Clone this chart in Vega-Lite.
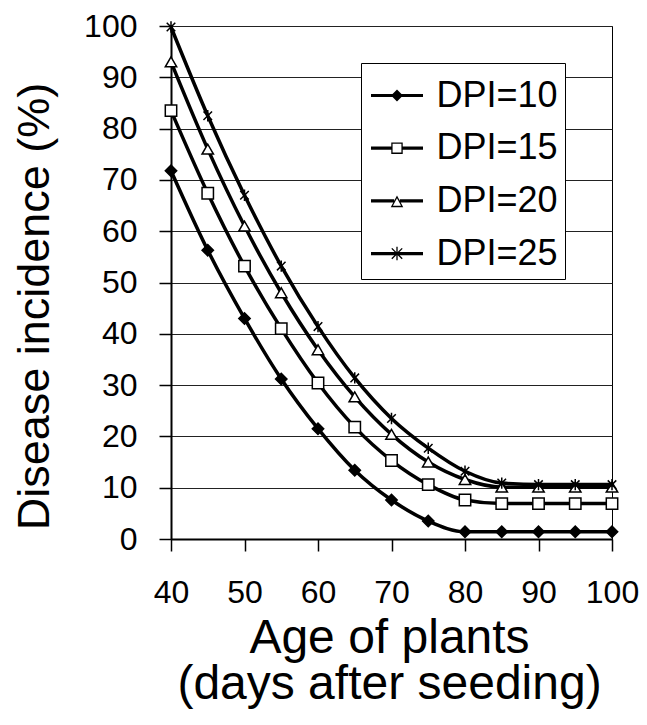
{
  "$schema": "https://vega.github.io/schema/vega-lite/v6.json",
  "width": 441,
  "height": 513,
  "autosize": {"type": "none"},
  "padding": {"left": 171, "top": 26, "right": 35, "bottom": 186},
  "background": "white",
  "config": {
    "font": "Liberation Sans",
    "view": {"stroke": "black", "strokeWidth": 1}
  },
  "data": {
    "values": [
      {"day": 40, "dpi": "DPI=10", "value": 71.8},
      {"day": 45, "dpi": "DPI=10", "value": 56.3},
      {"day": 50, "dpi": "DPI=10", "value": 43.0},
      {"day": 55, "dpi": "DPI=10", "value": 31.2},
      {"day": 60, "dpi": "DPI=10", "value": 21.5},
      {"day": 65, "dpi": "DPI=10", "value": 13.4},
      {"day": 70, "dpi": "DPI=10", "value": 7.6},
      {"day": 75, "dpi": "DPI=10", "value": 3.5},
      {"day": 80, "dpi": "DPI=10", "value": 1.4},
      {"day": 85, "dpi": "DPI=10", "value": 1.4},
      {"day": 90, "dpi": "DPI=10", "value": 1.4},
      {"day": 95, "dpi": "DPI=10", "value": 1.4},
      {"day": 100, "dpi": "DPI=10", "value": 1.4},
      {"day": 40, "dpi": "DPI=15", "value": 83.5},
      {"day": 45, "dpi": "DPI=15", "value": 67.4},
      {"day": 50, "dpi": "DPI=15", "value": 53.2},
      {"day": 55, "dpi": "DPI=15", "value": 41.0},
      {"day": 60, "dpi": "DPI=15", "value": 30.4},
      {"day": 65, "dpi": "DPI=15", "value": 21.8},
      {"day": 70, "dpi": "DPI=15", "value": 15.3},
      {"day": 75, "dpi": "DPI=15", "value": 10.6},
      {"day": 80, "dpi": "DPI=15", "value": 7.6},
      {"day": 85, "dpi": "DPI=15", "value": 6.9},
      {"day": 90, "dpi": "DPI=15", "value": 6.9},
      {"day": 95, "dpi": "DPI=15", "value": 6.9},
      {"day": 100, "dpi": "DPI=15", "value": 6.9},
      {"day": 40, "dpi": "DPI=20", "value": 93.0},
      {"day": 45, "dpi": "DPI=20", "value": 76.0},
      {"day": 50, "dpi": "DPI=20", "value": 61.0},
      {"day": 55, "dpi": "DPI=20", "value": 48.0},
      {"day": 60, "dpi": "DPI=20", "value": 36.9},
      {"day": 65, "dpi": "DPI=20", "value": 27.7},
      {"day": 70, "dpi": "DPI=20", "value": 20.4},
      {"day": 75, "dpi": "DPI=20", "value": 15.0},
      {"day": 80, "dpi": "DPI=20", "value": 11.6},
      {"day": 85, "dpi": "DPI=20", "value": 10.1},
      {"day": 90, "dpi": "DPI=20", "value": 10.1},
      {"day": 95, "dpi": "DPI=20", "value": 10.1},
      {"day": 100, "dpi": "DPI=20", "value": 10.1},
      {"day": 40, "dpi": "DPI=25", "value": 99.8},
      {"day": 45, "dpi": "DPI=25", "value": 82.5},
      {"day": 50, "dpi": "DPI=25", "value": 67.0},
      {"day": 55, "dpi": "DPI=25", "value": 53.2},
      {"day": 60, "dpi": "DPI=25", "value": 41.4},
      {"day": 65, "dpi": "DPI=25", "value": 31.4},
      {"day": 70, "dpi": "DPI=25", "value": 23.5},
      {"day": 75, "dpi": "DPI=25", "value": 17.7},
      {"day": 80, "dpi": "DPI=25", "value": 13.2},
      {"day": 85, "dpi": "DPI=25", "value": 10.9},
      {"day": 90, "dpi": "DPI=25", "value": 10.6},
      {"day": 95, "dpi": "DPI=25", "value": 10.6},
      {"day": 100, "dpi": "DPI=25", "value": 10.6}
    ]
  },
  "encoding": {
    "x": {
      "field": "day",
      "type": "quantitative",
      "scale": {"domain": [40, 100], "nice": false, "zero": false},
      "axis": {
        "values": [40, 50, 60, 70, 80, 90, 100],
        "grid": false,
        "domainColor": "black",
        "domainWidth": 2,
        "tickColor": "black",
        "tickWidth": 1.5,
        "tickSize": 12,
        "labelFontSize": 32,
        "labelColor": "black",
        "labelPadding": 26,
        "labelFlush": false,
        "labelOverlap": false,
        "title": ["Age of plants", "(days after seeding)"],
        "titleFontSize": 48,
        "titleFontWeight": "normal",
        "titleColor": "black",
        "titleBaseline": "alphabetic",
        "titleLineHeight": 46,
        "titleX": 218,
        "titleY": 113
      }
    },
    "y": {
      "field": "value",
      "type": "quantitative",
      "scale": {"domain": [0, 100], "nice": false},
      "axis": {
        "values": [0, 10, 20, 30, 40, 50, 60, 70, 80, 90, 100],
        "grid": true,
        "gridColor": "#222",
        "gridWidth": 1,
        "domainColor": "black",
        "domainWidth": 2,
        "tickColor": "black",
        "tickWidth": 1.5,
        "tickSize": 12,
        "labelFontSize": 32,
        "labelColor": "black",
        "labelPadding": 22,
        "labelFlush": false,
        "labelOverlap": false,
        "title": "Disease incidence (%)",
        "titleFontSize": 45,
        "titleFontWeight": "normal",
        "titleColor": "black",
        "titleBaseline": "alphabetic",
        "titleX": -123,
        "titleY": 280
      }
    }
  },
  "layer": [
    {
      "mark": {"type": "line", "interpolate": "monotone", "color": "black", "strokeWidth": 3.5},
      "encoding": {"detail": {"field": "dpi"}}
    },
    {
      "mark": {"type": "point", "stroke": "black", "strokeWidth": 1.5, "opacity": 1, "size": 130},
      "encoding": {
        "fill": {
          "field": "dpi",
          "type": "nominal",
          "scale": {"domain": ["DPI=10", "DPI=15", "DPI=20", "DPI=25"], "range": ["black", "white", "white", "white"]},
          "legend": null
        },
        "shape": {
          "field": "dpi",
          "type": "nominal",
          "scale": {
            "domain": ["DPI=10", "DPI=15", "DPI=20", "DPI=25"],
            "range": ["diamond", "square", "triangle-up", "M0,-1L0,1M-0.75,-0.75L0.75,0.75M-0.75,0.75L0.75,-0.75"]
          },
          "legend": null
        }
      }
    },
    {
      "transform": [{"filter": "datum.day > 1000"}],
      "mark": {"type": "point", "filled": true, "fill": "black", "stroke": "black", "strokeWidth": 0, "opacity": 1, "size": 2704},
      "encoding": {
        "shape": {
          "field": "dpi",
          "type": "nominal",
          "scale": {
            "domain": ["DPI=10", "DPI=15", "DPI=20", "DPI=25"],
            "range": [
              "M-1,-0.062L1,-0.062L1,0.062L-1,0.062Z M0,-0.23L0.23,0L0,0.23L-0.23,0Z",
              "M-1,-0.062L-0.22,-0.062L-0.22,0.062L-1,0.062Z M0.22,-0.062L1,-0.062L1,0.062L0.22,0.062Z M-0.22,-0.22L0.22,-0.22L0.22,0.22L-0.22,0.22Z M-0.17,-0.17L-0.17,0.17L0.17,0.17L0.17,-0.17Z",
              "M-1,-0.062L-0.11,-0.062L-0.11,0.062L-1,0.062Z M0.11,-0.062L1,-0.062L1,0.062L0.11,0.062Z M0,-0.21L0.24,0.24L-0.24,0.24Z M0,-0.104L-0.156,0.19L0.156,0.19Z",
              "M-1,-0.062L1,-0.062L1,0.062L-1,0.062Z M-0.025,-0.26L0.025,-0.26L0.025,0.26L-0.025,0.26Z M-0.182,-0.218L0.218,0.182L0.182,0.218L-0.218,-0.182Z M0.218,-0.182L-0.182,0.218L-0.218,0.182L0.182,-0.218Z"
            ]
          },
          "legend": {
            "title": null,
            "orient": "none",
            "legendX": 190,
            "legendY": 37,
            "padding": 6.5,
            "strokeColor": "black",
            "fillColor": "white",
            "symbolSize": 2704,
            "symbolStrokeWidth": 0,
            "symbolFillColor": "black",
            "symbolOpacity": 1,
            "symbolOffset": 3.5,
            "labelOffset": 13.5,
            "labelFontSize": 36,
            "labelColor": "black",
            "labelExpr": "datum.label + '\u2009'",
            "rowPadding": 8.7
          }
        }
      }
    }
  ],
  "resolve": {"scale": {"shape": "independent"}, "legend": {"shape": "independent"}}
}
